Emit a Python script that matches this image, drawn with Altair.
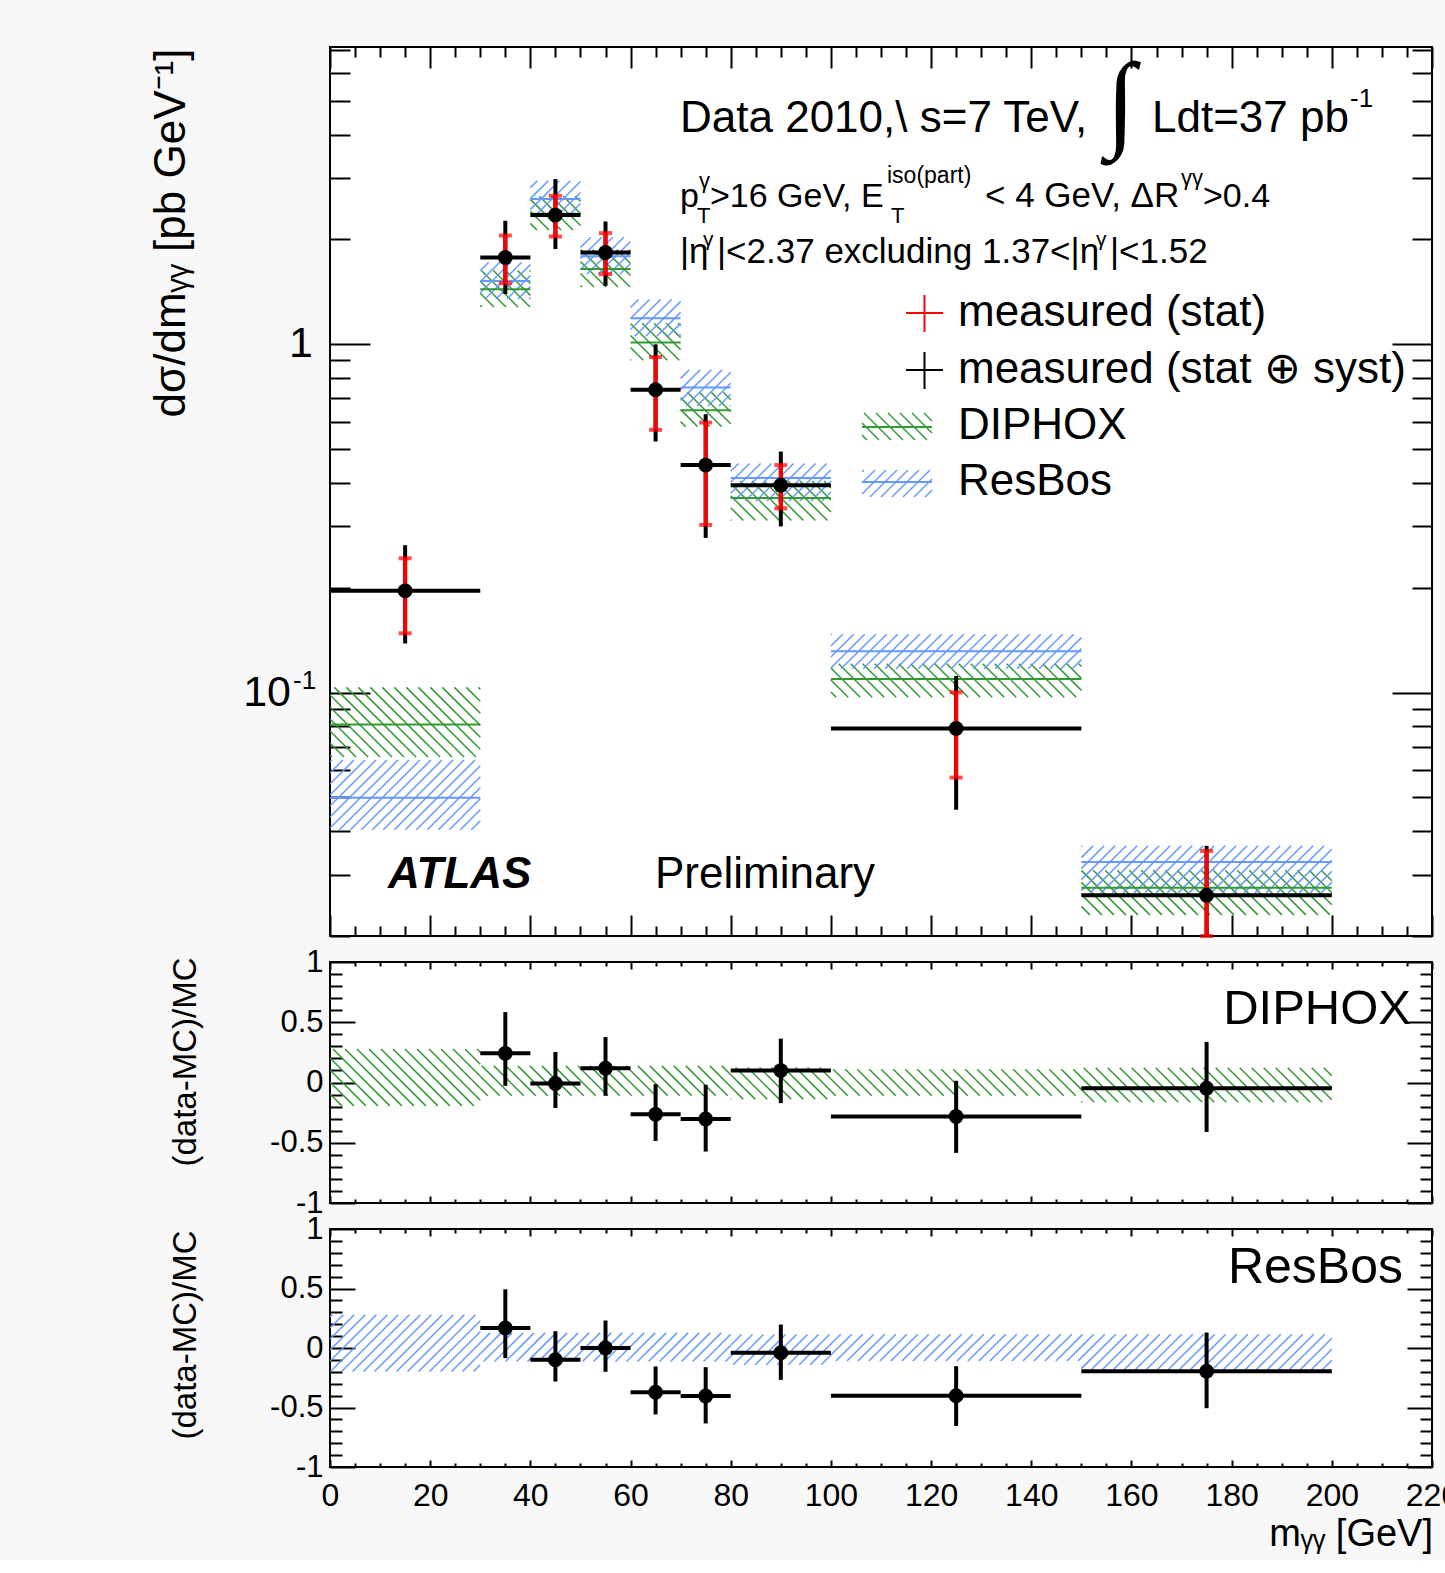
import math
import altair as alt
import pandas as pd

FONT = "Liberation Sans"
GREEN = "#339933"
BLUE = "#6699ff"
RED = "#ff0000"

# ---------------- data ----------------
bin_lo = [0, 30, 40, 50, 60, 70, 80, 100, 150]
bin_hi = [30, 40, 50, 60, 70, 80, 100, 150, 200]
bin_mid = [15, 35, 45, 55, 65, 75, 90, 125, 175]

data_val = [0.196, 1.776, 2.350, 1.835, 0.741, 0.450, 0.394, 0.0789, 0.0262]
stat_up = [0.243, 2.053, 2.670, 2.086, 0.919, 0.596, 0.450, 0.1002, 0.0351]
stat_dn = [0.148, 1.498, 2.040, 1.591, 0.568, 0.303, 0.338, 0.0570, 0.0200]
tot_up = [0.265, 2.263, 2.982, 2.253, 1.000, 0.630, 0.492, 0.1115, 0.0363]
tot_dn = [0.1384, 1.394, 1.877, 1.472, 0.526, 0.278, 0.300, 0.0461, 0.0200]

diphox_val = [0.0810, 1.440, 2.370, 1.645, 1.012, 0.647, 0.362, 0.1093, 0.0275]
diphox_up = [0.1035, 1.630, 2.660, 1.870, 1.150, 0.728, 0.405, 0.1210, 0.0309]
diphox_dn = [0.0653, 1.280, 2.130, 1.460, 0.900, 0.580, 0.312, 0.0970, 0.0230]
resbos_val = [0.0499, 1.521, 2.612, 1.790, 1.189, 0.751, 0.413, 0.1315, 0.0326]
resbos_up = [0.0640, 1.720, 2.950, 2.030, 1.345, 0.845, 0.455, 0.1470, 0.0363]
resbos_dn = [0.0404, 1.350, 2.320, 1.590, 1.055, 0.665, 0.355, 0.1170, 0.0266]

# ratio panels: points exist for bins 2..9
ratio_lo = bin_lo[1:]
ratio_hi = bin_hi[1:]
ratio_mid = bin_mid[1:]
r_dip = [0.242, -0.008, 0.118, -0.264, -0.303, 0.099, -0.282, -0.047]
r_dip_up = [0.584, 0.253, 0.377, -0.014, -0.019, 0.364, 0.014, 0.337]
r_dip_dn = [-0.028, -0.212, -0.110, -0.485, -0.573, -0.171, -0.584, -0.410]
r_res = [0.169, -0.099, 0.000, -0.372, -0.403, -0.039, -0.401, -0.195]
r_res_up = [0.493, 0.141, 0.231, -0.155, -0.161, 0.197, -0.153, 0.130]
r_res_dn = [-0.085, -0.282, -0.200, -0.558, -0.634, -0.268, -0.655, -0.506]
band_dip_up = [0.278, 0.138, 0.138, 0.138, 0.138, 0.138, 0.124, 0.110, 0.123]
band_dip_dn = [-0.194, -0.110, -0.110, -0.110, -0.110, -0.110, -0.138, -0.110, -0.164]
band_res_up = [0.280, 0.127, 0.127, 0.127, 0.127, 0.127, 0.113, 0.116, 0.116]
band_res_dn = [-0.197, -0.113, -0.113, -0.113, -0.113, -0.113, -0.141, -0.110, -0.181]

x_major = list(range(0, 221, 20))
x_minor = [v for v in range(0, 221, 5) if v % 20]
y_main_major = [0.1, 1.0]
y_main_minor = [m * 10.0 ** e for e in (-2, -1, 0) for m in range(2, 10) if 0.02 <= m * 10.0 ** e <= 7.0]
y_ratio_major = [-1, -0.5, 0, 0.5, 1]
y_ratio_minor = [round(-1 + 0.1 * i, 1) for i in range(21) if i % 5]

# ---------------- layout ----------------
W = 1102
H_MAIN = 889
H_R1 = 241
H_R2 = 238
XMIN, XMAX = 0.0, 220.0
YMIN, YMAX = 0.02, 7.14
LMIN, LMAX = math.log10(YMIN), math.log10(YMAX)


def fx(x):
    return (x - XMIN) / (XMAX - XMIN) * W


def ix(p):
    return XMIN + p / W * (XMAX - XMIN)


def fy_main(y):
    return (LMAX - math.log10(y)) / (LMAX - LMIN) * H_MAIN


def iy_main(p):
    return 10 ** (LMAX - p / H_MAIN * (LMAX - LMIN))


def fy_ratio(h):
    return lambda y: (1 - y) / 2.0 * h


def iy_ratio(h):
    return lambda p: 1 - 2.0 * p / h


def hatch_px(X1, X2, Y1, Y2, s, kind, iyf):
    segs = []
    if kind == "back":  # "\\\\" lines : px - py = c
        for k in range(math.ceil((X1 - Y2) / s), math.floor((X2 - Y1) / s) + 1):
            c = k * s
            a = max(X1, Y1 + c)
            b = min(X2, Y2 + c)
            if b - a > 0.3:
                segs.append((a, a - c, b, b - c))
    else:  # "////" lines : px + py = c
        for k in range(math.ceil((X1 + Y1) / s), math.floor((X2 + Y2) / s) + 1):
            c = k * s
            a = max(X1, c - Y2)
            b = min(X2, c - Y1)
            if b - a > 0.3:
                segs.append((a, c - a, b, c - b))
    return [dict(x=ix(p), y=iyf(q), x2=ix(r), y2=iyf(t)) for p, q, r, t in segs]


def hatch_bands(los, his, dns, ups, fyf, iyf, s, kind):
    rows = []
    for a, b, d, u in zip(los, his, dns, ups):
        rows += hatch_px(fx(a), fx(b), fyf(u), fyf(d), s, kind, iyf)
    return pd.DataFrame(rows)


xs = alt.Scale(domain=[XMIN, XMAX], nice=False, zero=False)
ys_main = alt.Scale(type="log", domain=[YMIN, YMAX], nice=False)
ys_ratio = alt.Scale(domain=[-1, 1], nice=False, zero=False)

one = pd.DataFrame({"a": [0]})


def X(f):
    return alt.X(f + ":Q", scale=xs, axis=None)


def Y(f, sc):
    return alt.Y(f + ":Q", scale=sc, axis=None)


def text(s, x, y, size, align="left", baseline="alphabetic", angle=0, weight="normal",
         style="normal", font=FONT, color="black"):
    return alt.Chart(one).mark_text(
        text=s, align=align, baseline=baseline, fontSize=size, font=font, angle=angle,
        fontWeight=weight, fontStyle=style, color=color
    ).encode(x=alt.value(x), y=alt.value(y))


def prule(x1, x2, y1, y2, color, width):
    return alt.Chart(one).mark_rule(color=color, strokeWidth=width).encode(
        x=alt.value(x1), x2=alt.value(x2), y=alt.value(y1), y2=alt.value(y2))


def tick_axis(orient, values, length):
    return alt.Axis(orient=orient, values=values, tickSize=length, offset=-length,
                    labels=False, domain=False, grid=False, ticks=True,
                    tickColor="black", tickWidth=2, title=None)


axis_df = pd.DataFrame({"x": [100.0], "y": [0.5]})


def carrier(ys, xaxis, yaxis):
    return alt.Chart(axis_df).mark_point(opacity=0).encode(
        x=alt.X("x:Q", scale=xs, axis=xaxis), y=alt.Y("y:Q", scale=ys, axis=yaxis))


def tick_carriers(ys, ymaj, ymin, ymaj_len, ymin_len, xmaj_len, xmin_len):
    return [
        carrier(ys, tick_axis("bottom", x_major, xmaj_len), tick_axis("left", ymaj, ymaj_len)),
        carrier(ys, tick_axis("bottom", x_minor, xmin_len), tick_axis("left", ymin, ymin_len)),
        carrier(ys, tick_axis("top", x_major, xmaj_len), tick_axis("right", ymaj, ymaj_len)),
        carrier(ys, tick_axis("top", x_minor, xmin_len), tick_axis("right", ymin, ymin_len)),
    ]


# ---------------- main panel ----------------
main_df = pd.DataFrame(dict(lo=bin_lo, hi=bin_hi, mid=bin_mid, val=data_val,
                            su=stat_up, sd=stat_dn, tu=tot_up, td=tot_dn,
                            dv=diphox_val, rv=resbos_val))

g_h = hatch_bands(bin_lo, bin_hi, diphox_dn, diphox_up, fy_main, iy_main, 12, "back")
b_h = hatch_bands(bin_lo, bin_hi, resbos_dn, resbos_up, fy_main, iy_main, 11, "fwd")

# legend boxes (pixel layout inside main panel)
leg_g = pd.DataFrame(hatch_px(532, 602, 366, 393, 12, "back", iy_main))
leg_b = pd.DataFrame(hatch_px(532, 602, 423, 450, 11, "fwd", iy_main))


def hatch_layer(df, color, ys):
    return alt.Chart(df).mark_rule(color=color, strokeWidth=1.5, clip=True).encode(
        x=X("x"), y=Y("y", ys), x2="x2:Q", y2="y2:Q")


main_layers = [
    hatch_layer(g_h, GREEN, ys_main),
    hatch_layer(b_h, BLUE, ys_main),
    alt.Chart(main_df).mark_rule(color=GREEN, strokeWidth=2).encode(x=X("lo"), x2="hi:Q", y=Y("dv", ys_main)),
    alt.Chart(main_df).mark_rule(color=BLUE, strokeWidth=2).encode(x=X("lo"), x2="hi:Q", y=Y("rv", ys_main)),
    alt.Chart(main_df).mark_rule(color="black", strokeWidth=4, clip=True).encode(x=X("mid"), y=Y("td", ys_main), y2="tu:Q"),
    alt.Chart(main_df).mark_rule(color="black", strokeWidth=4, clip=True).encode(x=X("lo"), x2="hi:Q", y=Y("val", ys_main)),
    alt.Chart(main_df).mark_rule(color=RED, strokeWidth=4, clip=True).encode(x=X("mid"), y=Y("sd", ys_main), y2="su:Q"),
    alt.Chart(main_df).mark_tick(color=RED, orient="horizontal", size=13, thickness=4).encode(x=X("mid"), y=Y("su", ys_main)),
    alt.Chart(main_df).mark_tick(color=RED, orient="horizontal", size=13, thickness=4).encode(x=X("mid"), y=Y("sd", ys_main)),
    alt.Chart(main_df).mark_circle(color="black", size=220, opacity=1).encode(x=X("mid"), y=Y("val", ys_main)),
    # legend
    hatch_layer(leg_g, GREEN, ys_main),
    hatch_layer(leg_b, BLUE, ys_main),
    prule(532, 602, 380, 380, GREEN, 2),
    prule(532, 602, 435, 435, BLUE, 2),
    prule(576, 613, 266, 266, RED, 2),
    prule(594.5, 594.5, 248, 285, RED, 2),
    prule(576, 613, 323, 323, "black", 2),
    prule(594.5, 594.5, 305, 342, "black", 2),
    text("measured (stat)", 628, 266, 44, baseline="middle"),
    text("measured (stat \u2295 syst)", 628, 323, 44, baseline="middle"),
    text("DIPHOX", 628, 379, 44, baseline="middle"),
    text("ResBos", 628, 435, 44, baseline="middle"),
    # header texts
    text("Data 2010,\\ s=7 TeV,", 350, 85, 44),
    text("\u222b", 791, 90, 107, align="center", font="Liberation Serif"),
    text("Ldt=37 pb", 822, 85, 44),
    text("-1", 1020, 60, 26),
    text("p", 350, 160, 34),
    text("T", 367, 176, 22),
    text("\u03b3", 369, 141, 22),
    text(">16 GeV, E", 380, 160, 34),
    text("T", 561, 176, 22),
    text("iso(part)", 557, 136, 23),
    text("< 4 GeV, \u0394R", 655, 160, 35),
    text("\u03b3\u03b3", 851, 138, 22),
    text(">0.4", 873, 160, 34),
    text("|\u03b7", 350, 216, 35),
    text("\u03b3", 373, 199, 21),
    text("|<2.37 excluding 1.37<|\u03b7", 387, 216, 35),
    text("\u03b3", 766, 199, 21),
    text("|<1.52", 780, 216, 35),
    text("ATLAS", 58, 828, 44, baseline="middle", weight="bold", style="italic"),
    text("Preliminary", 325, 828, 44, baseline="middle"),
    # y labels and title
    alt.Chart(pd.DataFrame({"y": [1.0]})).mark_text(text="1", align="right", baseline="middle", fontSize=43, font=FONT, color="black").encode(x=alt.value(-17), y=Y("y", ys_main)),
    alt.Chart(pd.DataFrame({"y": [0.1]})).mark_text(text="10", align="right", baseline="middle", fontSize=43, font=FONT, color="black").encode(x=alt.value(-39), y=Y("y", ys_main)),
    alt.Chart(pd.DataFrame({"y": [0.1]})).mark_text(text="-1", align="left", baseline="middle", fontSize=26, font=FONT, color="black", dy=-12).encode(x=alt.value(-37), y=Y("y", ys_main)),
    text("d\u03c3/dm\u1d67\u1d67 [pb GeV\u207b\u00b9]", -158, 186, 44, align="center", baseline="middle", angle=270),
] + tick_carriers(ys_main, y_main_major, y_main_minor, 40, 20, 21, 10)

main = alt.layer(*main_layers).properties(width=W, height=H_MAIN).resolve_axis(x="independent", y="independent")


# ---------------- ratio panels ----------------
def ratio_panel(h, r, r_up, r_dn, b_up, b_dn, color, kind, spacing, label, label_x, label_y,
                label_size, title_y, xlabels):
    ys = ys_ratio
    hdf = hatch_bands(bin_lo, bin_hi, b_dn, b_up, fy_ratio(h), iy_ratio(h), spacing, kind)
    df = pd.DataFrame(dict(lo=ratio_lo, hi=ratio_hi, mid=ratio_mid, r=r, ru=r_up, rd=r_dn))
    lab_axis = alt.Axis(orient="left", values=y_ratio_major, ticks=False, tickSize=0, domain=False,
                        grid=False, labelPadding=7, labelFontSize=31, labelFont=FONT, labelColor="black",
                        labelExpr="datum.value + ''", labelOverlap=False, labelBaseline="middle", title=None)
    xl_axis = None
    if xlabels:
        xl_axis = alt.Axis(orient="bottom", values=x_major, ticks=False, tickSize=0, domain=False,
                           grid=False, labelPadding=13, labelFontSize=32, labelFont=FONT, labelColor="black",
                           labelExpr="datum.value + ''", labelOverlap=False, labelFlush=False, title=None)
    layers = [
        hatch_layer(hdf, color, ys),
        alt.Chart(df).mark_rule(color="black", strokeWidth=4, clip=True).encode(x=X("mid"), y=Y("rd", ys), y2="ru:Q"),
        alt.Chart(df).mark_rule(color="black", strokeWidth=4, clip=True).encode(x=X("lo"), x2="hi:Q", y=Y("r", ys)),
        alt.Chart(df).mark_circle(color="black", size=220, opacity=1).encode(x=X("mid"), y=Y("r", ys)),
        text(label, label_x, label_y, label_size, align="right", baseline="middle"),
        text("(data-MC)/MC", -144, title_y, 33, align="center", baseline="middle", angle=270),
        carrier(ys, xl_axis, lab_axis),
    ] + tick_carriers(ys, y_ratio_major, y_ratio_minor, 25, 12, 7, 4)
    if xlabels:
        layers.append(text("m\u1d67\u1d67 [GeV]", W + 1, h + 68, 38, align="right", baseline="middle"))
    return alt.layer(*layers).properties(width=W, height=h).resolve_axis(x="independent", y="independent")


r1 = ratio_panel(H_R1, r_dip, r_dip_up, r_dip_dn, band_dip_up, band_dip_dn, GREEN, "back", 12,
                 "DIPHOX", 1081, 47, 49, 100, False)
r2 = ratio_panel(H_R2, r_res, r_res_up, r_res_dn, band_res_up, band_res_dn, BLUE, "fwd", 11,
                 "ResBos", 1073, 39, 50, 106, True)

chart = alt.vconcat(main, r1, r2, spacing=26, bounds="flush").properties(
    padding={"left": 149, "top": 45, "right": -15, "bottom": 5}
).configure(background="#f8f8f8").configure_view(fill="white", stroke="black", strokeWidth=2)

chart.save("out.html", embed_options={"renderer": "svg", "actions": False})
